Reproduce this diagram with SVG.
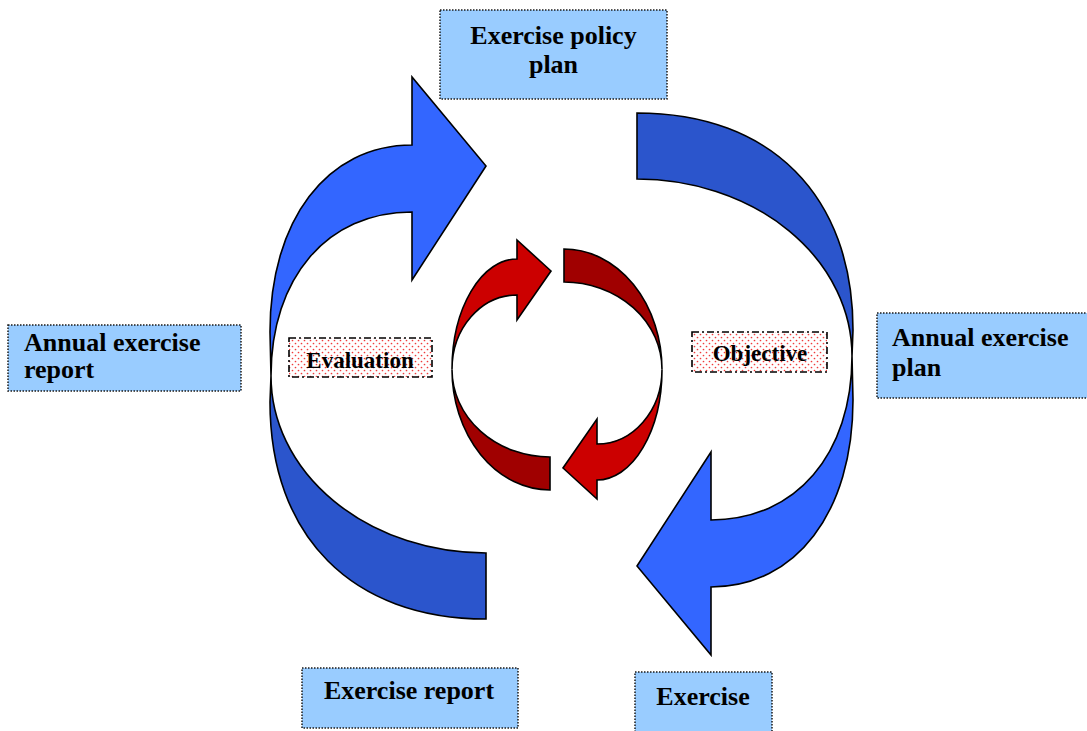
<svg xmlns="http://www.w3.org/2000/svg" xmlns:xlink="http://www.w3.org/1999/xlink" width="1087" height="731" viewBox="0 0 1087 731">
<defs>
<pattern id="dots" width="6" height="6" patternUnits="userSpaceOnUse">
<rect width="6" height="6" fill="#ffffff"/>
<circle cx="1.5" cy="1.5" r="0.85" fill="#f03c3c"/>
<circle cx="4.5" cy="4.5" r="0.85" fill="#f03c3c"/>
</pattern>
<style>
.box{fill:#99CCFF;stroke:#1a1a1a;stroke-width:1.5;stroke-dasharray:1.5 1.5}
.tag{fill:url(#dots);stroke:#000;stroke-width:1.6;stroke-dasharray:7 3 2 3}
.lbl{font-family:"Liberation Serif","Times New Roman",serif;font-weight:bold;font-size:26px;fill:#000}
.tlbl{font-family:"Liberation Serif","Times New Roman",serif;font-weight:bold;font-size:23px;fill:#000}
.bl{fill:#3366FF;stroke:#000;stroke-width:1.6;stroke-linejoin:miter}
.bd{fill:#2B55CC;stroke:#000;stroke-width:1.6;stroke-linejoin:miter}
.rl{fill:#CC0000;stroke:#000;stroke-width:1.6;stroke-linejoin:miter}
.rd{fill:#A00000;stroke:#000;stroke-width:1.6;stroke-linejoin:miter}
</style>
<path id="blueDark" class="bd" d="M637,113 C771,113 853,196 853,330 L852,356 A215,177 0 0 0 637,179 Z"/>
<path id="blueLight" class="bl" d="M852,356 L853,400 C853,512 796,587 711,587 L711,655 L637,566 L711,452 L711,520 C796,520 852,454 852,356 Z"/>
<path id="redDark" class="rd" d="M564,249 A98,120.5 0 0 1 662,369.5 A98,87.5 0 0 0 564,282 Z"/>
<path id="redLight" class="rl" d="M662,369.5 A65,110.5 0 0 1 597,480 L597,499 L563,468 L597,419 L597,444 A65,74.5 0 0 0 662,369.5 Z"/>
</defs>
<rect width="1087" height="731" fill="#ffffff"/>
<g id="connectors">
<g id="blue-right-arrow">
<use xlink:href="#blueDark"/>
<use xlink:href="#blueLight"/>
</g>
<g id="blue-left-arrow" transform="rotate(180 561.5 366)">
<use xlink:href="#blueDark"/>
<use xlink:href="#blueLight"/>
</g>
<g id="red-right-arrow">
<use xlink:href="#redDark"/>
<use xlink:href="#redLight"/>
</g>
<g id="red-left-arrow" transform="rotate(180 557 369.5)">
<use xlink:href="#redDark"/>
<use xlink:href="#redLight"/>
</g>
</g>
<g id="node-policy-plan">
<rect class="box" x="440" y="10" width="227" height="89"/>
<text class="lbl" x="553.5" y="44" text-anchor="middle">Exercise policy</text>
<text class="lbl" x="553.5" y="73" text-anchor="middle">plan</text>
</g>
<g id="node-annual-report">
<rect class="box" x="8" y="325" width="233" height="66"/>
<text class="lbl" x="24" y="351">Annual exercise</text>
<text class="lbl" x="24" y="378">report</text>
</g>
<g id="node-annual-plan">
<rect class="box" x="877" y="313" width="215" height="85"/>
<text class="lbl" x="892" y="346">Annual exercise</text>
<text class="lbl" x="892" y="376">plan</text>
</g>
<g id="node-exercise-report">
<rect class="box" x="302" y="668" width="216" height="60"/>
<text class="lbl" x="409" y="699" text-anchor="middle">Exercise report</text>
</g>
<g id="node-exercise">
<rect class="box" x="635" y="672" width="137" height="64"/>
<text class="lbl" x="703" y="705" text-anchor="middle">Exercise</text>
</g>
<g id="node-evaluation">
<rect class="tag" x="289" y="338" width="143" height="39"/>
<text class="tlbl" x="360" y="368" text-anchor="middle">Evaluation</text>
</g>
<g id="node-objective">
<rect class="tag" x="692" y="332" width="135" height="40"/>
<text class="tlbl" x="760" y="361" text-anchor="middle">Objective</text>
</g>
</svg>
